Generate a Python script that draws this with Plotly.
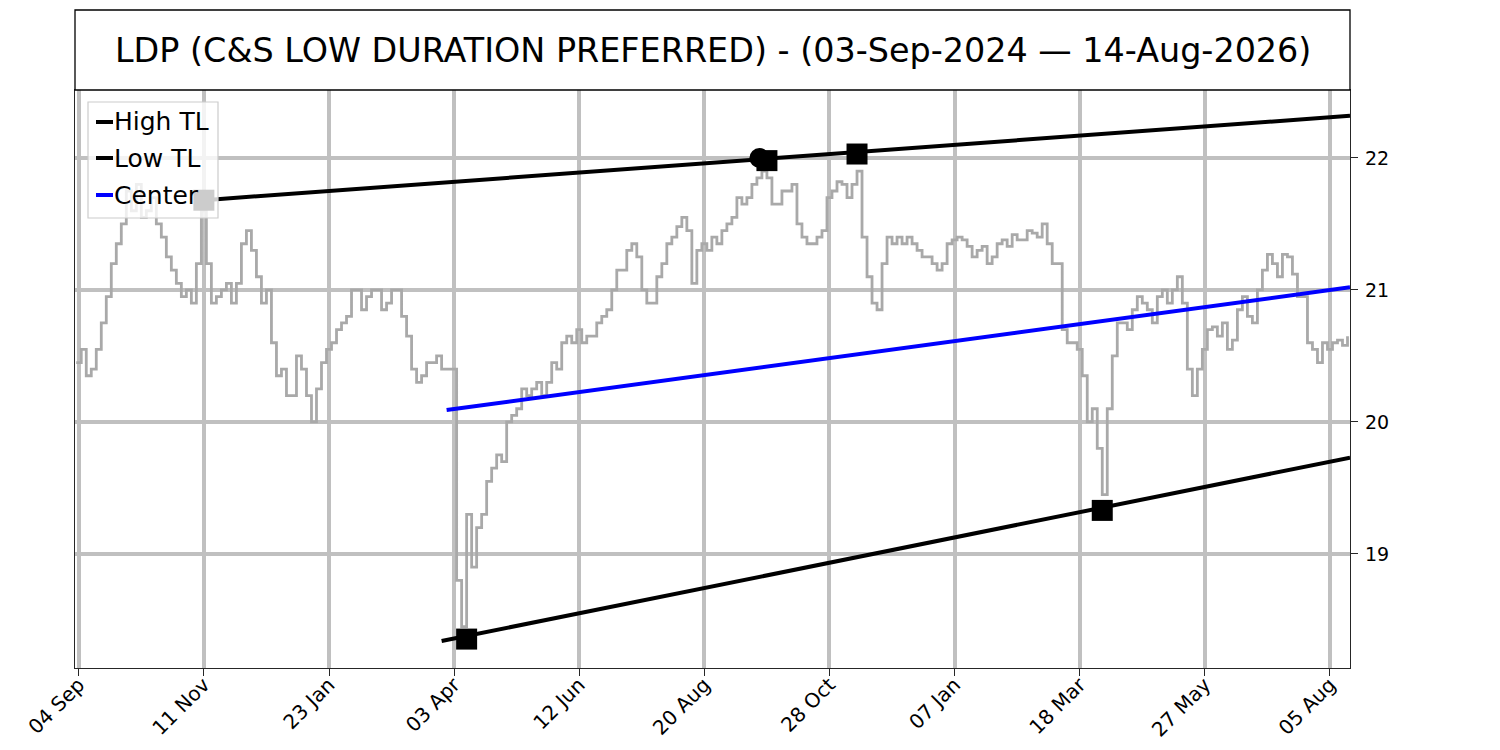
import numpy as np
import plotly.graph_objects as go

# closing prices, sampled every 2nd bar starting at 03-Sep-2024 (bar -1)
price = [
    # Sep 2024 - Mar 2025
    20.45, 20.55, 20.35, 20.40, 20.55, 20.75, 20.95, 21.20, 21.35, 21.50,
    21.75, 21.60, 21.80, 21.55, 21.60, 21.70, 21.50, 21.40, 21.25, 21.15,
    21.05, 20.95, 21.00, 20.90, 21.20, 21.60, 21.20, 20.90, 20.95, 21.00,
    21.05, 20.90, 21.05, 21.35, 21.45, 21.30, 21.10, 20.90, 21.00, 20.60,
    20.35, 20.40, 20.20, 20.20, 20.50, 20.40, 20.20, 20.00, 20.25, 20.45,
    20.55, 20.60, 20.70, 20.75, 20.80, 21.00, 21.00, 20.85, 20.95, 21.00,
    21.00, 20.85, 20.90, 21.00,
    # Mar 2025 - Aug 2025
    21.00, 20.80, 20.65, 20.40, 20.30, 20.35, 20.45, 20.45, 20.50, 20.40,
    20.40, 20.40, 18.80, 18.45, 19.30, 18.90, 19.20, 19.30, 19.55, 19.65,
    19.75, 19.70, 20.00, 20.05, 20.10, 20.25, 20.20, 20.25, 20.30, 20.20,
    20.30, 20.45, 20.40, 20.60, 20.65, 20.60, 20.70, 20.60, 20.65, 20.65,
    20.75, 20.80, 20.85, 21.00, 21.15, 21.15, 21.30, 21.35, 21.25, 21.00,
    20.90, 20.90, 21.10, 21.20, 21.35, 21.40, 21.48, 21.55, 21.45, 21.05,
    21.30, 21.35, 21.30,
    # Aug 2025 - Jan 2026
    21.40, 21.35, 21.45, 21.50, 21.55, 21.70, 21.65, 21.70, 21.80, 21.85,
    21.90, 21.85, 21.65, 21.65, 21.75, 21.75, 21.80, 21.50, 21.40, 21.35,
    21.35, 21.40, 21.45, 21.70, 21.75, 21.82, 21.80, 21.70, 21.80, 21.90,
    21.40, 21.10, 20.90, 20.85, 21.20, 21.40, 21.35, 21.40, 21.35, 21.40,
    21.35, 21.30, 21.25, 21.25, 21.20, 21.15, 21.20, 21.35, 21.38, 21.40,
    21.38, 21.33, 21.25, 21.30, 21.33, 21.20, 21.25, 21.35, 21.38, 21.33,
    21.42, 21.38, 21.38,
    # Jan 2026 - Aug 2026
    21.45, 21.43, 21.40, 21.50, 21.35, 21.20, 21.20, 20.70, 20.60, 20.60,
    20.55, 20.35, 20.00, 20.10, 19.80, 19.45, 20.10, 20.50, 20.75, 20.75,
    20.70, 20.85, 20.95, 20.90, 20.85, 20.75, 20.95, 21.00, 20.90, 21.00,
    21.10, 20.90, 20.40, 20.20, 20.40, 20.55, 20.70, 20.72, 20.65, 20.75,
    20.55, 20.62, 20.85, 20.95, 20.80, 20.75, 21.00, 21.15, 21.27, 21.20,
    21.10, 21.27, 21.25, 21.12, 20.95, 20.95, 20.60, 20.55, 20.45, 20.60,
    20.55, 20.60, 20.62, 20.58, 20.65,
]
bar_idx = -1 + 2 * np.arange(len(price))

tick_pos = [0, 50, 100, 150, 200, 250, 300, 350, 400, 450, 500]
tick_text = ['04 Sep', '11 Nov', '23 Jan', '03 Apr', '12 Jun', '20 Aug',
             '28 Oct', '07 Jan', '18 Mar', '27 May', '05 Aug']

# trend lines (bar index, price)
high_tl_x = [50, 508]
high_tl_y = [21.68, 22.32]
low_tl_x = [145, 508]
low_tl_y = [18.34, 19.73]
center_x = [147, 508]
center_y = [20.09, 21.02]

# pivots used for the trend lines
pivot_x = [50, 275, 311, 155, 409]
pivot_y = [21.68, 21.98, 22.03, 18.355, 19.33]
touch_x = [272]
touch_y = [22.0]

FONT = 'DejaVu Sans'
# page body has an 8px margin, so the figure is shrunk by that amount
W, H = 1484, 734
L, R, T, B = 67, 142, 82, 74


def px(x):  # reference pixel -> paper x
    return (x - 75) / 1275


def py(y):  # reference pixel -> paper y
    return (668 - y) / 578


fig = go.Figure()

fig.add_trace(go.Scatter(x=bar_idx, y=price, mode='lines', line_shape='hv',
                         line=dict(color='#a9a9a9', width=2.8),
                         showlegend=False, hoverinfo='skip'))
fig.add_trace(go.Scatter(x=high_tl_x, y=high_tl_y, mode='lines', name='High TL',
                         line=dict(color='black', width=4), showlegend=False))
fig.add_trace(go.Scatter(x=low_tl_x, y=low_tl_y, mode='lines', name='Low TL',
                         line=dict(color='black', width=4), showlegend=False))
fig.add_trace(go.Scatter(x=center_x, y=center_y, mode='lines', name='Center',
                         line=dict(color='blue', width=4), showlegend=False))
fig.add_trace(go.Scatter(x=touch_x, y=touch_y, mode='markers',
                         marker=dict(symbol='circle', size=20, color='black'),
                         showlegend=False))
fig.add_trace(go.Scatter(x=pivot_x, y=pivot_y, mode='markers',
                         marker=dict(symbol='square', size=21, color='black'),
                         showlegend=False))

# title box
fig.add_shape(type='rect', xref='paper', yref='paper', x0=0, x1=1,
              y0=1, y1=py(10), line=dict(color='black', width=1.3),
              fillcolor='white', layer='above')
fig.add_annotation(x=0.5, y=py(50), xref='paper', yref='paper',
                   text='LDP (C&S LOW DURATION PREFERRED) - (03-Sep-2024 \u2014 14-Aug-2026)',
                   showarrow=False, xanchor='center', yanchor='middle',
                   font=dict(family=FONT, size=33.4, color='black'))

# legend box drawn by hand (short handles like matplotlib)
fig.add_shape(type='rect', xref='paper', yref='paper', x0=px(88), x1=px(218),
              y0=py(218), y1=py(102), line=dict(color='#cccccc', width=1.2),
              fillcolor='rgba(255,255,255,0.8)', layer='above')
legend_items = [('High TL', 'black', 122), ('Low TL', 'black', 158), ('Center', 'blue', 195)]
for label, col, ypix in legend_items:
    fig.add_shape(type='line', xref='paper', yref='paper', x0=px(96), x1=px(113),
                  y0=py(ypix), y1=py(ypix), line=dict(color=col, width=4), layer='above')
    fig.add_annotation(x=px(112), y=py(ypix), xref='paper', yref='paper', text=label,
                       showarrow=False, xanchor='left', yanchor='middle',
                       font=dict(family=FONT, size=25, color='black'))

fig.update_layout(
    width=W, height=H,
    margin=dict(l=L, r=R, t=T, b=B),
    paper_bgcolor='white', plot_bgcolor='white',
    font=dict(family=FONT, color='black'),
    showlegend=False,
)
fig.update_xaxes(range=[-1.5, 508], tickvals=tick_pos, ticktext=tick_text,
                 tickangle=-45, tickfont=dict(size=20), ticks='outside', ticklen=7,
                 ticklabelstandoff=-11,
                 tickwidth=1.3, tickcolor='#262626', showline=True, linecolor='#262626',
                 linewidth=1.3, mirror=True, showgrid=True, gridcolor='#c0c0c0',
                 gridwidth=4, zeroline=False, automargin=False)
fig.update_yaxes(range=[18.136, 22.515], tickvals=[19, 20, 21, 22], side='right',
                 tickfont=dict(size=19), ticks='outside', ticklen=7, tickwidth=1.3,
                 ticklabelstandoff=3,
                 tickcolor='#262626', showline=True, linecolor='#262626', linewidth=1.3,
                 mirror=True, showgrid=True, gridcolor='#c0c0c0', gridwidth=4,
                 zeroline=False, automargin=False)

fig.write_html('out.html')
